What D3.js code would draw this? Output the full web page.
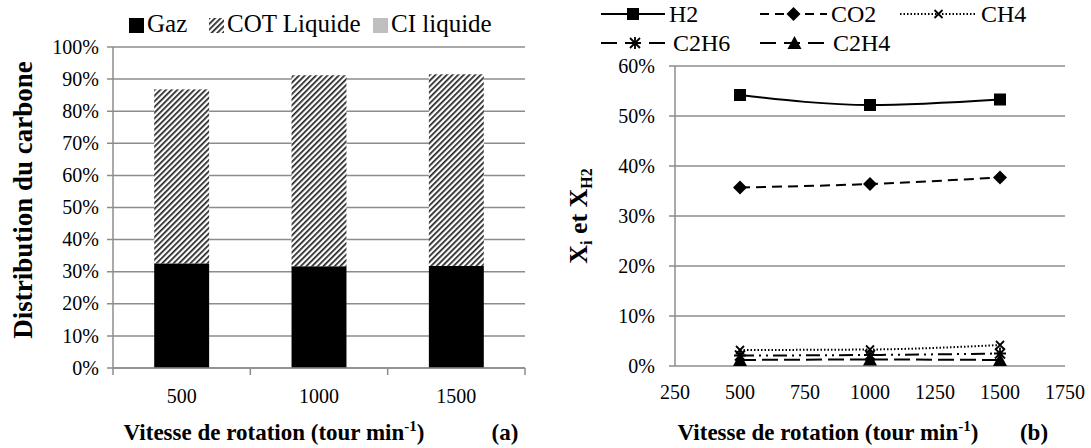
<!DOCTYPE html>
<html><head><meta charset="utf-8">
<script src="https://cdn.jsdelivr.net/npm/d3@7"></script>
<style>
body{margin:0;background:#fff;}
svg{display:block;}
</style></head>
<body><svg id="c" width="1091" height="448"></svg>
<script>
// ---- Data (a) ----
const speedsA = ["500", "1000", "1500"];
const seriesA = ["Gaz", "COT Liquide", "CI liquide"];
const gaz = [0.326, 0.317, 0.318];
const cotLiquide = [0.542, 0.595, 0.597];
const ciLiquide = [0, 0, 0];
const yTicksA = [0,0.1,0.2,0.3,0.4,0.5,0.6,0.7,0.8,0.9,1.0];

// ---- Data (b) ----
const speedsB = [500, 1000, 1500];
const h2 = [0.542, 0.522, 0.533];
const co2 = [0.357, 0.364, 0.377];
const ch4 = [0.032, 0.033, 0.042];
const c2h6 = [0.021, 0.022, 0.025];
const c2h4 = [0.012, 0.013, 0.012];
const xTicksB = [250,500,750,1000,1250,1500,1750];
const yTicksB = [0,0.1,0.2,0.3,0.4,0.5,0.6];

const FONT = "Liberation Serif";
const svg = d3.select("#c");
const grid = "#8c8c8c";
const pct = d3.format(".0%");

// pattern
const defs = svg.append("defs");
const pat = defs.append("pattern").attr("id","hatch").attr("patternUnits","userSpaceOnUse")
  .attr("width",4).attr("height",4).attr("patternTransform","rotate(45)");
pat.append("rect").attr("width",4).attr("height",4).attr("fill","#fff");
pat.append("rect").attr("width",1.7).attr("height",4).attr("fill","#222");

// ================= Chart (a) =================
const xa = d3.scaleBand().domain(speedsA).range([113,525]).paddingInner(0.6).paddingOuter(0.3);
const ya = d3.scaleLinear().domain([0,1]).range([368,47]);
const ga = svg.append("g");
ga.selectAll("line.g").data(yTicksA).join("line")
  .attr("x1",107).attr("x2",525).attr("y1",d=>ya(d)).attr("y2",d=>ya(d))
  .attr("stroke",grid).attr("stroke-width",1.5);
ga.selectAll("text.yt").data(yTicksA).join("text")
  .attr("x",99).attr("y",d=>ya(d)).attr("dy","0.33em").attr("text-anchor","end")
  .attr("font-size",20).text(d=>pct(d));
// stacked bars
const stackData = speedsA.map((s,i)=>({s, "Gaz":gaz[i], "COT Liquide":cotLiquide[i], "CI liquide":ciLiquide[i]}));
const stacked = d3.stack().keys(seriesA)(stackData);
const fills = {"Gaz":"#000","COT Liquide":"url(#hatch)","CI liquide":"#bfbfbf"};
stacked.forEach(layer=>{
  ga.selectAll(null).data(layer).join("rect")
    .attr("x",d=>xa(d.data.s)).attr("width",xa.bandwidth())
    .attr("y",d=>ya(d[1])).attr("height",d=>Math.max(0,ya(d[0])-ya(d[1])))
    .attr("fill",fills[layer.key]);
});
// axes lines
ga.append("line").attr("x1",113).attr("x2",113).attr("y1",47).attr("y2",368).attr("stroke",grid).attr("stroke-width",1.5);
ga.append("line").attr("x1",113).attr("x2",525).attr("y1",368).attr("y2",368).attr("stroke",grid).attr("stroke-width",1.5);
const bTicks = [0,1,2,3].map(i=>113+ i*(412/3));
ga.selectAll("line.xt").data(bTicks).join("line")
  .attr("x1",d=>d).attr("x2",d=>d).attr("y1",368).attr("y2",375).attr("stroke",grid).attr("stroke-width",1.5);
ga.selectAll("text.xl").data(speedsA).join("text")
  .attr("x",d=>xa(d)+xa.bandwidth()/2).attr("y",396).attr("dy","0.33em")
  .attr("text-anchor","middle").attr("font-size",20).text(d=>d);
// axis titles
ga.append("text").attr("transform","translate(32,200) rotate(-90)").attr("text-anchor","middle")
  .attr("font-size",27).attr("font-weight","bold").text("Distribution du carbone");
const ta = ga.append("text").attr("x",274).attr("y",440).attr("text-anchor","middle").attr("font-size",23).attr("font-weight","bold");
ta.append("tspan").text("Vitesse de rotation (tour min");
ta.append("tspan").attr("dy",-9).attr("font-size",15).text("-1");
ta.append("tspan").attr("dy",9).text(")");
ga.append("text").attr("x",505).attr("y",440).attr("text-anchor","middle").attr("font-size",23).attr("font-weight","bold").text("(a)");
// legend (a)
const legA = [{k:"Gaz",x:129},{k:"COT Liquide",x:209},{k:"CI liquide",x:373}];
legA.forEach(l=>{
  ga.append("rect").attr("x",l.x).attr("y",18).attr("width",15).attr("height",15).attr("fill",fills[l.k]);
  ga.append("text").attr("x",l.x+18).attr("y",32).attr("font-size",25).text(l.k);
});

// ================= Chart (b) =================
const xb = d3.scaleLinear().domain([250,1750]).range([675,1065]);
const yb = d3.scaleLinear().domain([0,0.6]).range([366,66]);
const gb = svg.append("g");
gb.selectAll("line.g").data(yTicksB).join("line")
  .attr("x1",669).attr("x2",1065).attr("y1",d=>yb(d)).attr("y2",d=>yb(d))
  .attr("stroke",grid).attr("stroke-width",1.5);
gb.append("line").attr("x1",675).attr("x2",675).attr("y1",66).attr("y2",366).attr("stroke",grid).attr("stroke-width",1.5);
gb.selectAll("text.yt").data(yTicksB).join("text")
  .attr("x",655).attr("y",d=>yb(d)).attr("dy","0.33em").attr("text-anchor","end")
  .attr("font-size",20).text(d=>pct(d));
gb.selectAll("text.xt").data(xTicksB).join("text")
  .attr("x",d=>xb(d)).attr("y",392).attr("dy","0.33em").attr("text-anchor","middle")
  .attr("font-size",20).text(d=>d);

const seriesB = [
  {name:"H2", v:h2, dash:null, legDash:null, marker:"square"},
  {name:"CO2", v:co2, dash:"10,6", legDash:"9,6", marker:"diamond"},
  {name:"CH4", v:ch4, dash:"1.5,2", legDash:"1.5,2", marker:"x"},
  {name:"C2H6", v:c2h6, dash:"14,5,2,5,2,5", legDash:"16,8", marker:"star"},
  {name:"C2H4", v:c2h4, dash:"16,6", legDash:"16,8", marker:"triangle"}
];
function drawMarker(g, type, x, y){
  if(type==="square") g.append("rect").attr("x",x-6).attr("y",y-6).attr("width",12).attr("height",12).attr("fill","#000");
  else if(type==="diamond") g.append("path").attr("d",`M${x},${y-7}L${x+7},${y}L${x},${y+7}L${x-7},${y}Z`).attr("fill","#000");
  else if(type==="triangle") g.append("path").attr("d",`M${x},${y-7}L${x+7},${y+6}L${x-7},${y+6}Z`).attr("fill","#000");
  else if(type==="x") g.append("path").attr("d",`M${x-4},${y-4}L${x+4},${y+4}M${x-4},${y+4}L${x+4},${y-4}`).attr("stroke","#000").attr("stroke-width",1.8);
  else if(type==="star") g.append("path").attr("d",`M${x-5},${y-5}L${x+5},${y+5}M${x-5},${y+5}L${x+5},${y-5}M${x},${y-6}L${x},${y+6}M${x-6},${y}L${x+6},${y}`).attr("stroke","#000").attr("stroke-width",1.8);
}
seriesB.forEach(s=>{
  const pts = speedsB.map((x,i)=>[xb(x), yb(s.v[i])]);
  const line = d3.line().curve(d3.curveMonotoneX);
  const p = gb.append("path").attr("d",line(pts)).attr("fill","none").attr("stroke","#000").attr("stroke-width",2);
  if(s.dash) p.attr("stroke-dasharray",s.dash);
  pts.forEach(pt=>drawMarker(gb, s.marker, pt[0], pt[1]));
});
// legend (b)
const legB = [
  {i:0,x:601,x2:665,y:14},{i:1,x:760,x2:827,y:14},{i:2,x:900,x2:977,y:14},
  {i:3,x:601,x2:669,y:43},{i:4,x:760,x2:829,y:43}
];
legB.forEach(l=>{
  const s = seriesB[l.i];
  const ln = gb.append("line").attr("x1",l.x).attr("x2",l.x2).attr("y1",l.y).attr("y2",l.y).attr("stroke","#000").attr("stroke-width",2);
  if(s.legDash) ln.attr("stroke-dasharray", s.legDash);
  drawMarker(gb, s.marker, (l.x+l.x2)/2, l.y);
  gb.append("text").attr("x",l.x2+4).attr("y",l.y+8).attr("font-size",24).text(s.name);
});
// axis titles (b)
const tyb = gb.append("text").attr("transform","translate(587,216) rotate(-90)").attr("text-anchor","middle")
  .attr("font-size",26).attr("font-weight","bold");
tyb.append("tspan").text("X");
tyb.append("tspan").attr("dy",5).attr("font-size",16).text("i");
tyb.append("tspan").attr("dy",-5).text(" et X");
tyb.append("tspan").attr("dy",5).attr("font-size",16).text("H2");
const tb = gb.append("text").attr("x",828).attr("y",440).attr("text-anchor","middle").attr("font-size",23).attr("font-weight","bold");
tb.append("tspan").text("Vitesse de rotation (tour min");
tb.append("tspan").attr("dy",-9).attr("font-size",15).text("-1");
tb.append("tspan").attr("dy",9).text(")");
gb.append("text").attr("x",1034).attr("y",440).attr("text-anchor","middle").attr("font-size",23).attr("font-weight","bold").text("(b)");

svg.selectAll("text").style("font-family", FONT);
</script></body></html>
